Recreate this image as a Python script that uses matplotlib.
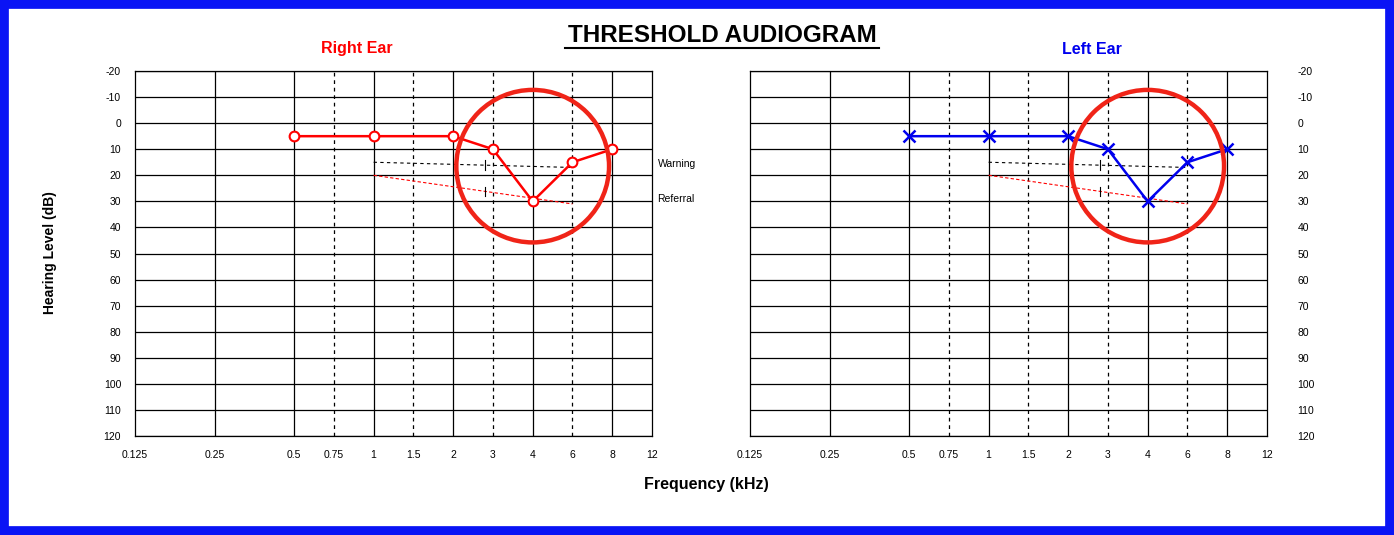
import matplotlib
matplotlib.use("Agg")
import matplotlib.pyplot as plt
from matplotlib.patches import Ellipse, Rectangle
import numpy as np

plt.rcParams['font.family'] = ['Liberation Sans', 'DejaVu Sans']

tick_freqs = [0.125, 0.25, 0.5, 0.75, 1, 1.5, 2, 3, 4, 6, 8, 12]
tick_labels = ["0.125", "0.25", "0.5", "0.75", "1", "1.5", "2", "3", "4", "6", "8", "12"]
tick_pos = [0, 1, 2, 2.5, 3, 3.5, 4, 4.5, 5, 5.5, 6, 6.5]
solid_freqs = [0.25, 0.5, 1, 2, 4, 8]
dashed_freqs = [0.75, 1.5, 3, 6]
test_freqs = [0.5, 1, 2, 3, 4, 6, 8]
right_ear = [5, 5, 5, 10, 30, 15, 10]
left_ear = [5, 5, 5, 10, 30, 15, 10]
warn_freqs = [1, 6]
warn_db = [15, 17]
ref_freqs = [1, 6]
ref_db = [20, 31]
mark_freq = 2.8
db_ticks = list(range(-20, 121, 10))

def fx(f):
    return np.interp(np.atleast_1d(f), tick_freqs, tick_pos)

W, H = 1394, 535
fig = plt.figure(figsize=(W/100, H/100), dpi=100)
fig.patches.append(Rectangle((4/W, 4/H), 1-8/W, 1-8/H, transform=fig.transFigure,
                             fill=False, edgecolor="#0a14f5", linewidth=7))

def make_ax(x0, title, title_x, color, data, marker, ms, mew, labels_right):
    ax = fig.add_axes([x0/W, 1-436/H, 517/W, 365/H])
    ax.set_xlim(0, 6.5)
    ax.set_ylim(120, -20)
    for v in db_ticks:
        ax.axhline(v, color="black", lw=0.9, zorder=1)
    for f in solid_freqs:
        ax.axvline(fx(f)[0], color="black", lw=0.9, zorder=1)
    for f in dashed_freqs:
        ax.axvline(fx(f)[0], color="black", lw=0.9, ls=(0, (3, 3)), zorder=1)
    ax.set_xticks(tick_pos)
    ax.set_xticklabels(tick_labels, fontsize=7.5)
    ax.set_yticks(db_ticks)
    ax.set_yticklabels([str(v) for v in db_ticks], fontsize=7.5)
    ax.tick_params(length=0, pad=10)
    if labels_right:
        ax.yaxis.tick_right()
        ax.tick_params(axis="y", pad=22)
    for s in ax.spines.values():
        s.set_linewidth(0.9)
    ax.plot(fx(warn_freqs), warn_db, color="black", lw=0.8, ls=(0, (3, 3)), zorder=2)
    ax.plot(fx(ref_freqs), ref_db, color="red", lw=0.8, ls=(0, (3, 2)), zorder=2)
    mx = fx(mark_freq)[0]
    for yy in (np.interp(mx, fx(warn_freqs), warn_db), np.interp(mx, fx(ref_freqs), ref_db)):
        ax.plot([mx, mx], [yy - 1.8, yy + 1.8], color="black", lw=0.8, zorder=2)
    if marker == "o":
        ax.plot(fx(test_freqs), data, color=color, lw=1.8, marker="o", ms=ms,
                mfc="white", mec=color, mew=mew, zorder=3)
    else:
        ax.plot(fx(test_freqs), data, color=color, lw=1.8, marker="x", ms=ms,
                mec=color, mew=mew, zorder=3)
    ax.add_patch(Ellipse((fx(4)[0], 16.5), 1.92, 58.5, fill=False, edgecolor="#f02418",
                         lw=3.2, zorder=4, clip_on=False))
    fig.text(title_x/W, 1-49/H, title, color=color, fontsize=11.5, fontweight="bold",
             ha="center", va="center")
    return ax

axL = make_ax(135, "Right Ear", 357, "#ff0000", right_ear, "o", 7, 1.5, False)
axR = make_ax(750, "Left Ear", 1092, "#0000ee", left_ear, "x", 9, 1.8, True)
axL.text(6.5 + 0.07, 15.5, "Warning", fontsize=7.5, va="center", ha="left")
axL.text(6.5 + 0.07, 29, "Referral", fontsize=7.5, va="center", ha="left")
fig.text(50/W, 1-253/H, "Hearing Level (dB)", rotation=90, ha="center", va="center",
         fontsize=10, fontweight="bold")

fig.text(722/W, 1-35/H, "THRESHOLD AUDIOGRAM", ha="center", va="center",
         fontsize=17.5, fontweight="bold")
fig.add_artist(plt.Line2D([565/W, 879/W], [1-48/H, 1-48/H], color="black", lw=1.5))
fig.text(706/W, 1-484/H, "Frequency (kHz)", ha="center", va="center",
         fontsize=11.5, fontweight="bold")

fig.savefig("out.png", dpi=100, facecolor="white")
